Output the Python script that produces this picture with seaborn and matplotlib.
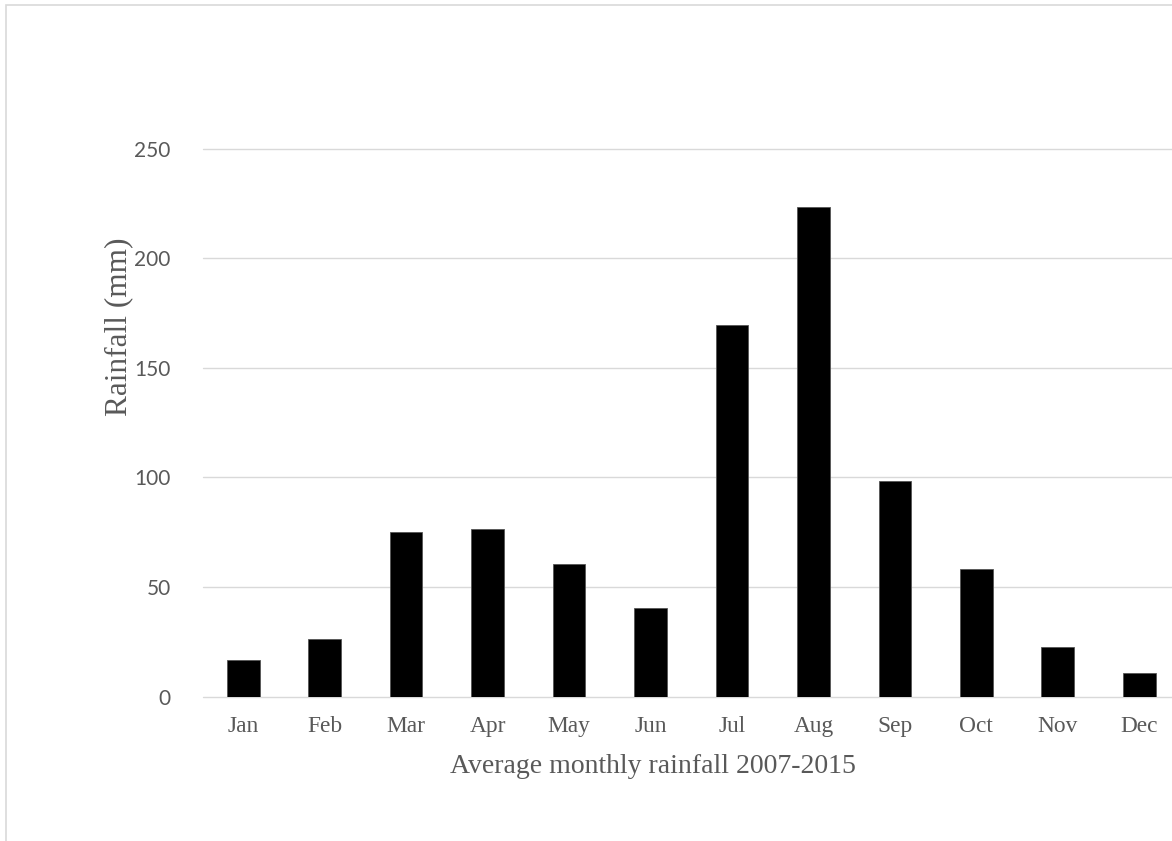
import matplotlib
matplotlib.use("Agg")
import matplotlib.pyplot as plt
import matplotlib.patches as mpatches
import pandas as pd
import seaborn as sns

# average monthly rainfall (mm)
months = ["Jan", "Feb", "Mar", "Apr", "May", "Jun",
          "Jul", "Aug", "Sep", "Oct", "Nov", "Dec"]
rainfall = [16.6, 26.2, 75.3, 76.7, 60.7, 40.4,
            169.4, 223.6, 98.3, 58.2, 22.7, 11.0]
y_ticks = [0, 50, 100, 150, 200, 250]

TEXT = "#595959"
GRID = "#D9D9D9"


def main() -> None:
    df = pd.DataFrame({"month": months, "rainfall": rainfall})

    sns.set_style("white")
    fig = plt.figure(figsize=(11.72, 8.41), dpi=100)
    ax = fig.add_axes([0.1728, 0.1716, 0.834, 0.6516])

    sns.barplot(data=df, x="month", y="rainfall", color="black",
                width=0.4, edgecolor="#555555", linewidth=0.6,
                saturation=1, ax=ax)

    ax.set_ylim(0, 250)
    ax.set_xlim(-0.5, 11.5)
    ax.set_yticks(y_ticks)
    ax.yaxis.grid(True, color=GRID, linewidth=1.0)
    for gl in ax.get_ygridlines():
        gl.set_clip_on(False)
    ax.set_axisbelow(True)
    for s in ax.spines.values():
        s.set_visible(False)
    ax.tick_params(axis="both", length=0)
    ax.tick_params(axis="y", pad=23)
    ax.tick_params(axis="x", pad=14)

    for lab in ax.get_yticklabels():
        lab.set_fontfamily("Lato")
        lab.set_fontsize(15)
        lab.set_color(TEXT)
    for lab in ax.get_xticklabels():
        lab.set_fontfamily("Liberation Serif")
        lab.set_fontsize(16.8)
        lab.set_color(TEXT)

    ax.set_xlabel("Average monthly rainfall 2007-2015", family="Liberation Serif",
                  fontsize=20, color=TEXT, va="center")
    ax.xaxis.set_label_coords(0.4609, -0.1265)
    ax.set_ylabel("Rainfall (mm)", family="Liberation Serif",
                  fontsize=22.5, color=TEXT, va="center")
    ax.yaxis.set_label_coords(-0.0854, 0.6746)

    # chart-area border, cut off at right and bottom
    border = mpatches.Rectangle((6 / 1172, -0.05), 1.1, 1 - 5.3 / 841 + 0.05,
                                transform=fig.transFigure, fill=False,
                                edgecolor=GRID, linewidth=1.2)
    fig.patches.append(border)

    fig.savefig("out.png", dpi=100)


if __name__ == "__main__":
    main()
